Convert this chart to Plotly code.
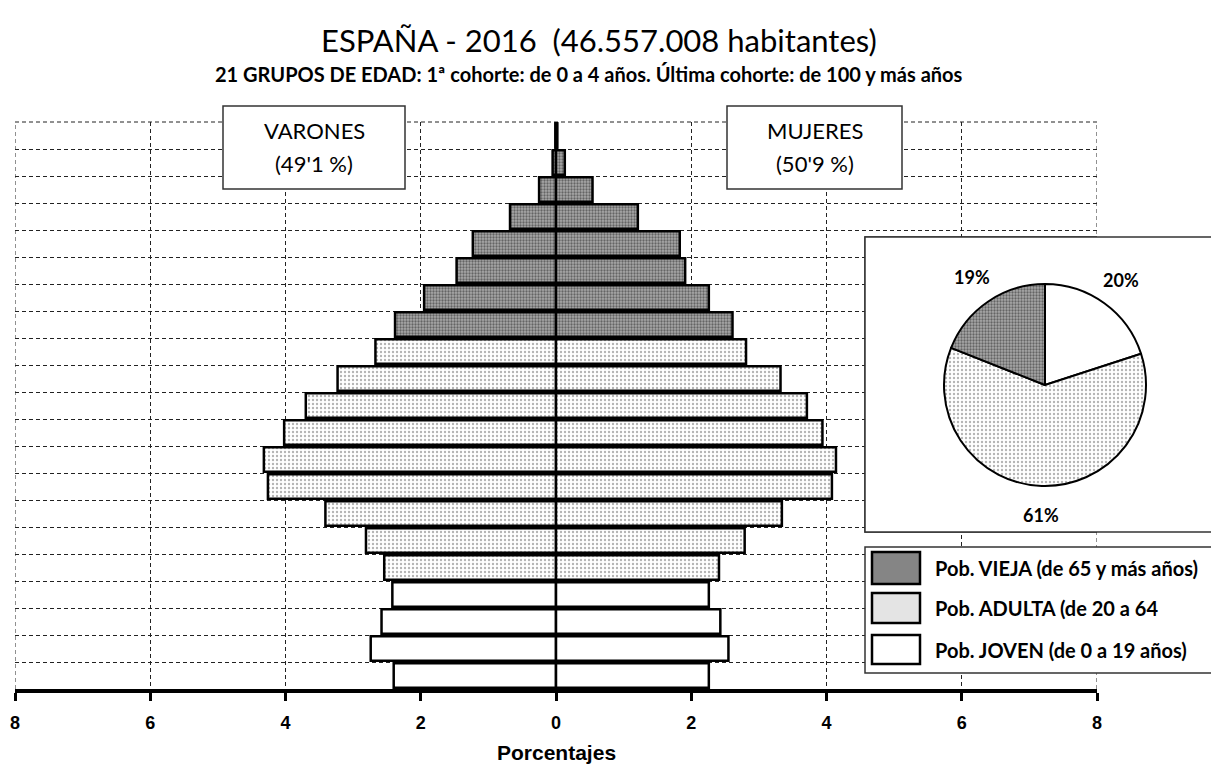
import math
import plotly.graph_objects as go

# ---------------- data ----------------
age_groups = ["0-4", "5-9", "10-14", "15-19", "20-24", "25-29", "30-34", "35-39",
              "40-44", "45-49", "50-54", "55-59", "60-64", "65-69", "70-74",
              "75-79", "80-84", "85-89", "90-94", "95-99", "100+"]
males = [2.40, 2.74, 2.58, 2.42, 2.54, 2.81, 3.41, 4.26, 4.32, 4.02, 3.70, 3.23,
         2.67, 2.38, 1.95, 1.47, 1.23, 0.68, 0.25, 0.05, 0.01]
females = [2.26, 2.55, 2.43, 2.26, 2.41, 2.79, 3.34, 4.08, 4.14, 3.94, 3.71, 3.32,
           2.81, 2.61, 2.26, 1.91, 1.83, 1.21, 0.54, 0.13, 0.02]
group_names = ["Pob. JOVEN (de 0 a 19 años)", "Pob. ADULTA (de 20 a 64",
               "Pob. VIEJA (de 65 y más años)"]
group_slices = [(0, 4), (4, 13), (13, 21)]
pie_labels = ["Pob. JOVEN", "Pob. ADULTA", "Pob. VIEJA"]
pie_values = [20, 61, 19]
title_text = "ESPAÑA - 2016  (46.557.008 habitantes)"
subtitle_text = "21 GRUPOS DE EDAD: 1ª cohorte: de 0 a 4 años. Última cohorte: de 100 y más años"
sex_labels = ["VARONES", "MUJERES"]
sex_shares = ["(49'1 %)", "(50'9 %)"]
x_ticks = [-8, -6, -4, -2, 0, 2, 4, 6, 8]

# ---------------- styles ----------------
W, H = 1211, 769
PL, PR, PT, PB = 15, 1097, 122, 689   # plot area in pixels
styles = {
    0: dict(color="white", pattern=dict(shape="")),
    1: dict(color="white", pattern=dict(shape=".", fgcolor="#6a6a6a", bgcolor="white",
                                         size=4, solidity=0.28, fillmode="overlay")),
    2: dict(color="#a8a8a8", pattern=dict(shape=".", fgcolor="#202020", bgcolor="#a8a8a8",
                                           size=3, solidity=0.45, fillmode="overlay")),
}
legend_fill = {0: "white", 1: "#e4e4e4", 2: "#858585"}
FONT = "Lato"
GRID = dict(color="#222", width=1, dash="4px,3px")
N = len(age_groups)


def px_x(p):
    return p / W


def px_y(p):
    return 1 - p / H


def data_x(p):
    return -8 + 16 * (p - PL) / (PR - PL)


def data_y(p):
    return -0.5 + N * (PB - p) / (PB - PT)


fig = go.Figure()
for g, (a, b) in enumerate(group_slices):
    cats = age_groups[a:b]
    st = styles[g]
    for vals, sign in ((males, -1), (females, 1)):
        fig.add_trace(go.Bar(
            y=cats, x=[sign * v for v in vals[a:b]], orientation="h", name=group_names[g],
            marker=dict(color=st["color"], pattern=st["pattern"],
                        line=dict(color="black", width=2.5)),
            showlegend=False, hoverinfo="y+name"))

# pie
pc_x, pc_y, pr = 1045, 385, 101
fig.add_trace(go.Pie(
    labels=pie_labels, values=pie_values, sort=False, direction="clockwise",
    rotation=0, textinfo="none",
    marker=dict(colors=["white", "white", "#a8a8a8"],
                pattern=dict(shape=["", ".", "."],
                             fgcolor=["white", "#6a6a6a", "#202020"],
                             bgcolor=["white", "white", "#a8a8a8"],
                             size=[4, 4, 3], solidity=[0.1, 0.28, 0.45],
                             fillmode="overlay"),
                line=dict(color="black", width=2)),
    domain=dict(x=[px_x(pc_x - pr), px_x(pc_x + pr)],
                y=[px_y(pc_y + pr), px_y(pc_y - pr)]),
    showlegend=False, hoverinfo="label+percent"))

shapes = []
annotations = []
# frame grid lines at the plot edges (plotly drops grid lines on range edges)
for x0, x1, y0, y1 in [(-8, -8, 0, 1), (8, 8, 0, 1), (-8, 8, 1, 1)]:
    shapes.append(dict(type="line", xref="x", yref="y domain", x0=x0, x1=x1, y0=y0, y1=y1,
                       layer="below", line=GRID))

# pie percentage labels placed outside the slices (angles from the values)
total = sum(pie_values)
cum = 0
R_lab = 130
for v in pie_values:
    mid = 2 * math.pi * (cum + v / 2) / total
    cum += v
    lx = pc_x + R_lab * math.sin(mid)
    ly = pc_y - R_lab * math.cos(mid)
    annotations.append(dict(xref="paper", yref="paper", x=px_x(lx), y=px_y(ly),
                            text=f"{round(100 * v / total)}%", showarrow=False,
                            xanchor="center", yanchor="middle",
                            font=dict(family=FONT, size=18, color="black", weight="bold")))

# pie box: full outline on paper, plus a white cover above the grid inside the plot area
shapes.append(dict(type="rect", xref="paper", yref="paper", layer="below",
                   x0=px_x(865), x1=px_x(1216), y0=px_y(532), y1=px_y(237),
                   line=dict(color="#333", width=1.5), fillcolor="white"))
shapes.append(dict(type="rect", xref="x", yref="y", layer="between",
                   x0=data_x(865), x1=data_x(1216), y0=data_y(532), y1=data_y(237),
                   line=dict(color="#333", width=1.5), fillcolor="white"))
# legend box
shapes.append(dict(type="rect", xref="paper", yref="paper",
                   x0=px_x(865), x1=px_x(1216), y0=px_y(673), y1=px_y(547),
                   line=dict(color="#333", width=1.5), fillcolor="white"))
leg_rows = [(552, 584, 2), (593, 623, 1), (635, 664, 0)]
for (t, b_, g) in leg_rows:
    shapes.append(dict(type="rect", xref="paper", yref="paper",
                       x0=px_x(872), x1=px_x(920), y0=px_y(b_), y1=px_y(t),
                       line=dict(color="black", width=2.5), fillcolor=legend_fill[g]))
    annotations.append(dict(xref="paper", yref="paper", x=px_x(933), y=px_y((t + b_) / 2),
                            text=group_names[g], showarrow=False, xanchor="left",
                            yanchor="middle",
                            font=dict(family=FONT, size=20, color="black", weight="bold")))
# sex boxes
for (x0, x1), lab, share in zip([(223, 405), (727, 902)], sex_labels, sex_shares):
    shapes.append(dict(type="rect", xref="paper", yref="paper",
                       x0=px_x(x0), x1=px_x(x1), y0=px_y(189), y1=px_y(106),
                       line=dict(color="#333", width=1.5), fillcolor="white"))
    annotations.append(dict(xref="paper", yref="paper", x=px_x((x0 + x1) / 2), y=px_y(130),
                            text=lab, showarrow=False, xanchor="center", yanchor="middle",
                            font=dict(family=FONT, size=22, color="black")))
    annotations.append(dict(xref="paper", yref="paper", x=px_x((x0 + x1) / 2), y=px_y(163),
                            text=share, showarrow=False, xanchor="center", yanchor="middle",
                            font=dict(family=FONT, size=22, color="black")))
# titles
annotations.append(dict(xref="paper", yref="paper", x=px_x(599), y=px_y(40), text=title_text,
                        showarrow=False, xanchor="center", yanchor="middle",
                        font=dict(family=FONT, size=31, color="black")))
annotations.append(dict(xref="paper", yref="paper", x=px_x(589), y=px_y(74), text=subtitle_text,
                        showarrow=False, xanchor="center", yanchor="middle",
                        font=dict(family=FONT, size=20, color="black", weight="bold")))
annotations.append(dict(xref="paper", yref="paper", x=px_x(556), y=px_y(752), text="Porcentajes",
                        showarrow=False, xanchor="center", yanchor="middle",
                        font=dict(family="Liberation Sans", size=21, color="black",
                                  weight="bold")))

fig.update_layout(
    width=W, height=H, template="none", barmode="overlay", bargap=0.1,
    margin=dict(l=0, r=0, t=0, b=0), paper_bgcolor="white", plot_bgcolor="white",
    shapes=shapes, annotations=annotations, showlegend=False,
    xaxis=dict(domain=[px_x(PL), px_x(PR)], range=[-8, 8], tickvals=x_ticks,
               ticktext=[str(abs(v)) for v in x_ticks], ticks="outside", ticklen=8,
               tickwidth=3, tickcolor="black", showline=True, linecolor="black",
               linewidth=4, showgrid=True, gridcolor="#222", griddash="4px,3px",
               gridwidth=1, zeroline=True, zerolinecolor="black", zerolinewidth=2.5,
               ticklabelstandoff=6,
               tickfont=dict(family="Liberation Sans", size=18, color="black", weight="bold"),
               automargin=False, fixedrange=True),
    yaxis=dict(domain=[px_y(PB), px_y(PT)], type="category", range=[-0.5, 20.5],
               categoryorder="array", categoryarray=age_groups, tickson="boundaries",
               showticklabels=False, ticks="", showgrid=True, gridcolor="#222",
               griddash="4px,3px", gridwidth=1, showline=False, zeroline=False,
               automargin=False, fixedrange=True),
)

fig.write_html("out.html", config={"displayModeBar": False},
               post_script="document.body.style.margin='0';")
